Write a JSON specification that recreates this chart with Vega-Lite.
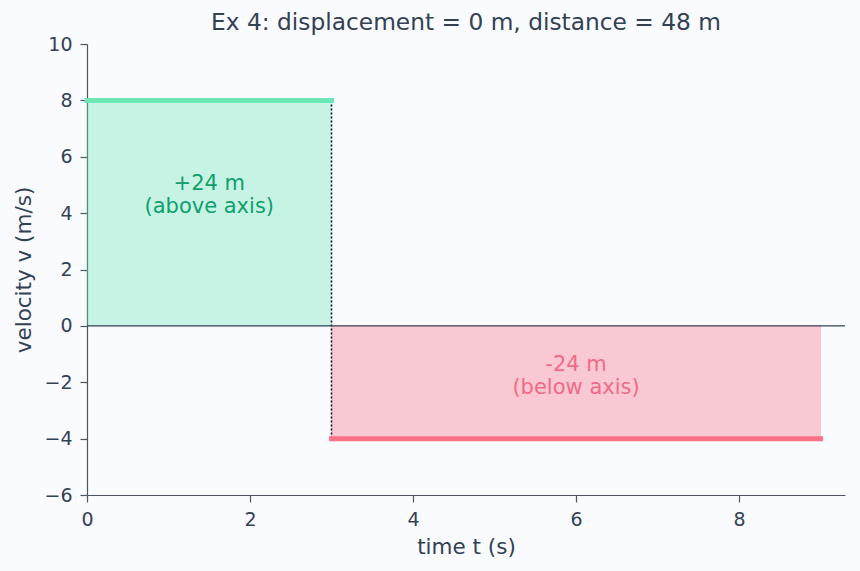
{
  "$schema": "https://vega.github.io/schema/vega-lite/v6.json",
  "autosize": {"type": "none"},
  "width": 758,
  "height": 451,
  "padding": {"left": 87, "top": 44, "right": 15, "bottom": 76},
  "background": "#fafbfe",
  "config": {
    "view": {"stroke": null},
    "font": "DejaVu Sans",
    "axis": {
      "grid": false,
      "domainColor": "#4b5563",
      "domainWidth": 1.2,
      "tickColor": "#4b5563",
      "tickWidth": 1.2,
      "tickSize": 7,
      "labelColor": "#334155",
      "labelFont": "DejaVu Sans",
      "labelFontSize": 19,
      "labelPadding": 8,
      "labelFlush": false,
      "titleColor": "#334155",
      "titleFont": "DejaVu Sans",
      "titleFontSize": 21.5,
      "titleFontWeight": "normal"
    },
    "title": {"font": "DejaVu Sans", "fontSize": 23.3, "fontWeight": "normal", "color": "#334155"}
  },
  "title": {"text": "Ex 4: displacement = 0 m, distance = 48 m", "offset": 0},
  "datasets": {
    "regions": [
      {"t0": 0, "t1": 3, "v0": 0, "v1": 8, "sign": "pos"},
      {"t0": 3, "t1": 9, "v0": -4, "v1": 0, "sign": "neg"}
    ],
    "segments": [
      {"t0": 0, "t1": 3, "v": 8, "sign": "pos"},
      {"t0": 3, "t1": 9, "v": -4, "sign": "neg"}
    ],
    "jump": [{"t": 3, "vtop": 8, "vbot": -4}],
    "labels": [
      {"t": 1.5, "v": 5.04, "label": "+24 m\n(above axis)", "sign": "pos"},
      {"t": 6, "v": -1.4, "label": "-24 m\n(below axis)", "sign": "neg"}
    ]
  },
  "layer": [
    {
      "data": {"name": "regions"},
      "mark": {"type": "rect", "opacity": 0.36, "strokeWidth": 1},
      "encoding": {
        "x": {"field": "t0", "type": "quantitative", "scale": {"domain": [0, 9.3], "nice": false, "zero": false}, "axis": {"values": [0, 2, 4, 6, 8], "format": "d", "title": "time t (s)", "titlePadding": 7}},
        "x2": {"field": "t1"},
        "y": {"field": "v0", "type": "quantitative", "scale": {"domain": [-6, 10], "nice": false}, "axis": {"values": [-6, -4, -2, 0, 2, 4, 6, 8, 10], "format": "d", "title": "velocity v (m/s)", "titlePadding": 8}},
        "y2": {"field": "v1"},
        "fill": {"field": "sign", "type": "nominal", "scale": {"domain": ["pos", "neg"], "range": ["#6ee7b7", "#fb7185"]}, "legend": null},
        "stroke": {"field": "sign", "type": "nominal", "scale": {"domain": ["pos", "neg"], "range": ["#6ee7b7", "#fb7185"]}, "legend": null}
      }
    },
    {
      "data": {"name": "jump"},
      "mark": {"type": "rule", "color": "#111827", "strokeWidth": 1.6, "strokeDash": [2, 2]},
      "encoding": {
        "x": {"field": "t", "type": "quantitative"},
        "y": {"field": "vtop", "type": "quantitative"},
        "y2": {"field": "vbot"}
      }
    },
    {
      "data": {"name": "segments"},
      "mark": {"type": "rule", "strokeWidth": 5, "strokeCap": "square"},
      "encoding": {
        "x": {"field": "t0", "type": "quantitative"},
        "x2": {"field": "t1"},
        "y": {"field": "v", "type": "quantitative"},
        "stroke": {"field": "sign", "type": "nominal", "scale": {"domain": ["pos", "neg"], "range": ["#6ee7b7", "#fb7185"]}, "legend": null}
      }
    },
    {
      "data": {"values": [{"v": 0}]},
      "mark": {"type": "rule", "color": "#334155", "strokeWidth": 1.3},
      "encoding": {"y": {"field": "v", "type": "quantitative"}}
    },
    {
      "data": {"name": "labels"},
      "transform": [{"filter": "datum.sign === 'pos'"}],
      "mark": {"type": "text", "color": "#0f9f6e", "fontSize": 21, "lineBreak": "\n", "lineHeight": 23, "baseline": "middle", "align": "center", "font": "DejaVu Sans"},
      "encoding": {
        "x": {"field": "t", "type": "quantitative"},
        "y": {"field": "v", "type": "quantitative"},
        "text": {"field": "label"}
      }
    },
    {
      "data": {"name": "labels"},
      "transform": [{"filter": "datum.sign === 'neg'"}],
      "mark": {"type": "text", "color": "#f06b88", "fontSize": 21, "lineBreak": "\n", "lineHeight": 23, "baseline": "middle", "align": "center", "font": "DejaVu Sans"},
      "encoding": {
        "x": {"field": "t", "type": "quantitative"},
        "y": {"field": "v", "type": "quantitative"},
        "text": {"field": "label"}
      }
    }
  ]
}
